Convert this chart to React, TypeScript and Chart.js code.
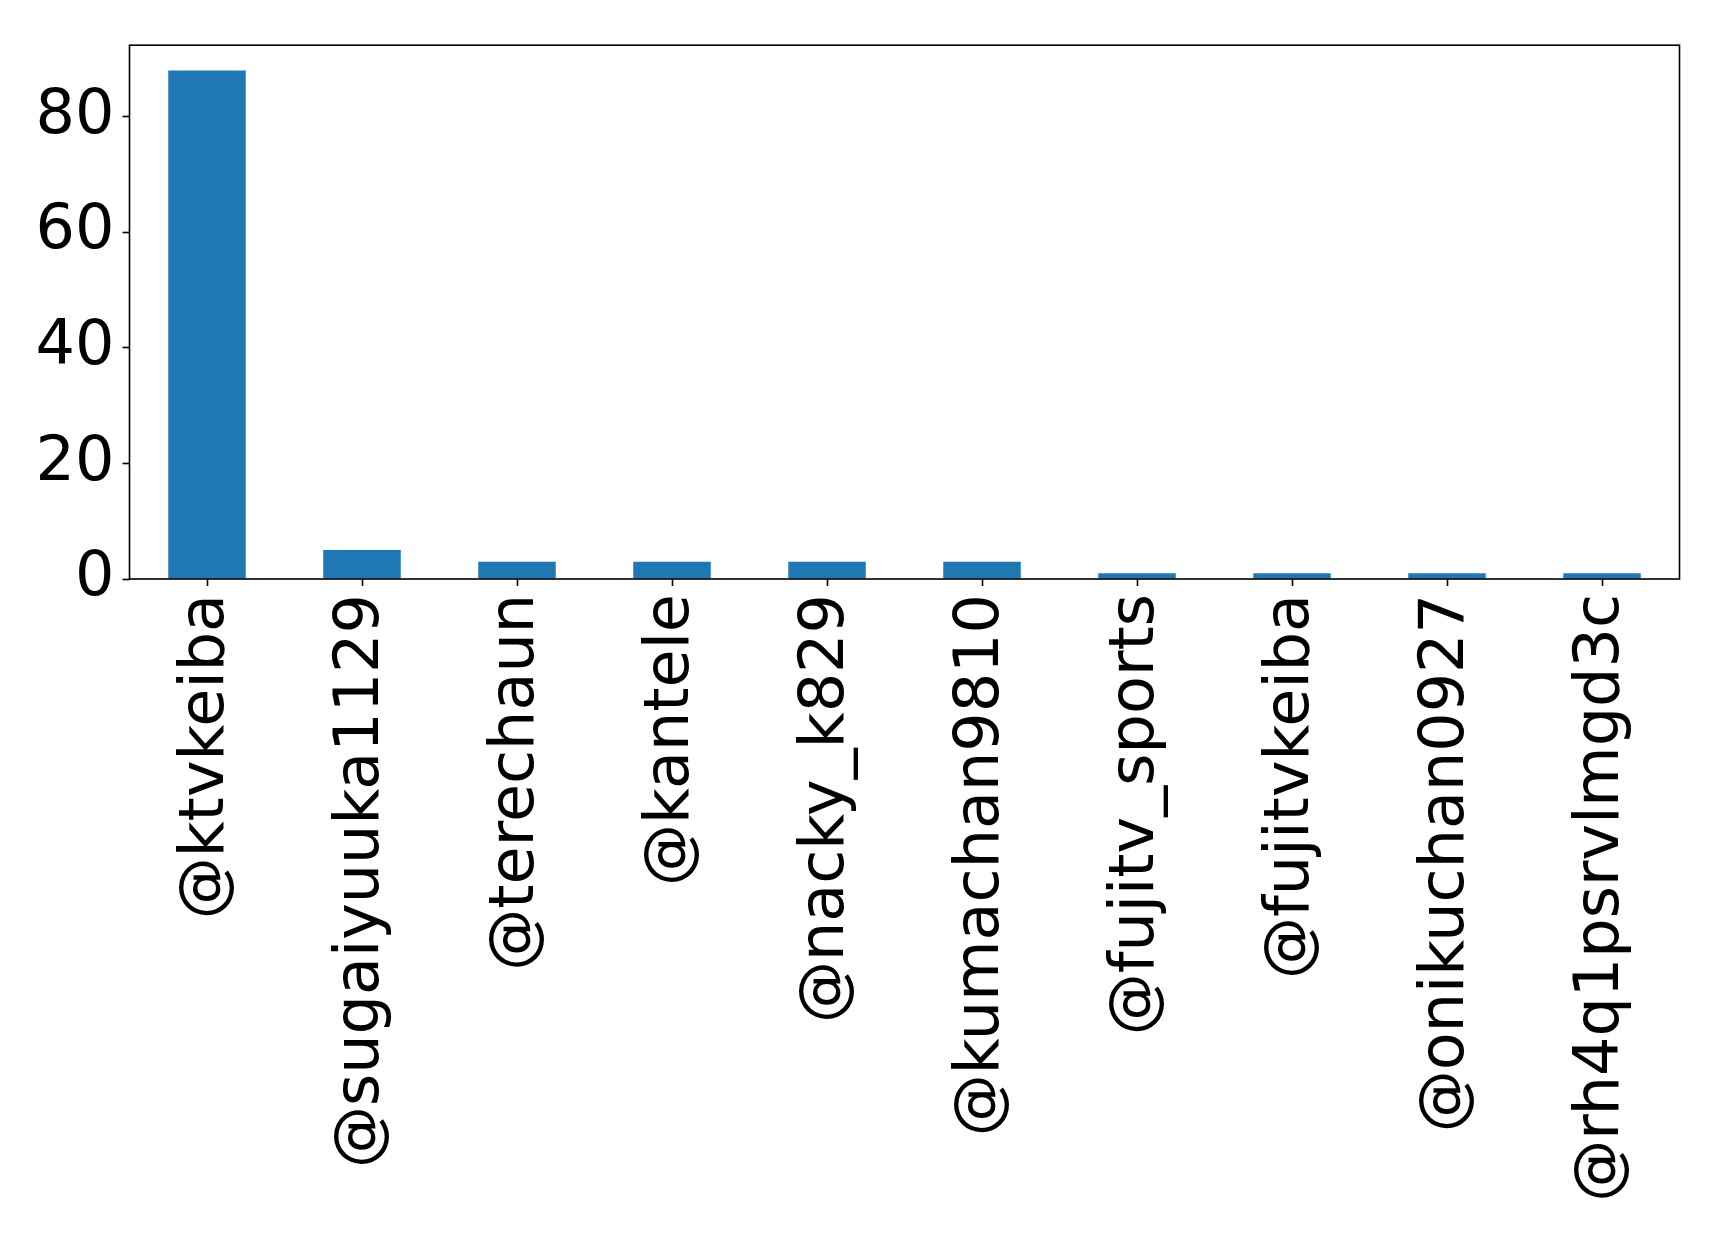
import React, { useEffect, useRef } from "react";
import { Chart, registerables } from "chart.js";

Chart.register(...registerables);

const accounts = [
  "@ktvkeiba",
  "@sugaiyuuka1129",
  "@terechaun",
  "@kantele",
  "@nacky_k829",
  "@kumachan9810",
  "@fujitv_sports",
  "@fujitvkeiba",
  "@onikuchan0927",
  "@rh4q1psrvlmgd3c",
];
const counts = [88, 5, 3, 3, 3, 3, 1, 1, 1, 1];
const yTicks = [0, 20, 40, 60, 80];

const W = 1719;
const H = 1241;
const FONT = "'DejaVu Sans', sans-serif";

// matplotlib-like frame round the plot area
const framePlugin = {
  id: "frame",
  afterDraw(chart: Chart) {
    const { ctx, chartArea: a } = chart;
    ctx.save();
    ctx.strokeStyle = "#000";
    ctx.lineWidth = 1.6;
    ctx.strokeRect(a.left, a.top, a.right - a.left, a.bottom - a.top);
    ctx.restore();
  },
};

const App: React.FC = () => {
  const canvasRef = useRef<HTMLCanvasElement | null>(null);

  useEffect(() => {
    const ctx = canvasRef.current?.getContext("2d");
    if (!ctx) return;
    const chart = new Chart(ctx, {
      type: "bar",
      data: {
        labels: accounts,
        datasets: [
          {
            data: counts,
            backgroundColor: "#1f77b4",
            barPercentage: 0.5,
            categoryPercentage: 1.0,
          },
        ],
      },
      options: {
        responsive: false,
        animation: false,
        devicePixelRatio: 1,
        layout: { padding: { top: 40, right: 39.5, left: 0, bottom: 0 } },
        plugins: { legend: { display: false }, tooltip: { enabled: false } },
        scales: {
          x: {
            offset: true,
            grid: {
              offset: false,
              drawOnChartArea: false,
              drawTicks: true,
              tickLength: 7,
              tickWidth: 1.6,
              tickColor: "#000",
            },
            border: { display: false },
            ticks: {
              autoSkip: false,
              maxRotation: 90,
              minRotation: 90,
              padding: 8,
              color: "#000",
              font: { family: FONT, size: 62 },
            },
            afterFit: (scale: any) => {
              scale.height = H - 579;
            },
          },
          y: {
            min: 0,
            max: 92.4,
            afterBuildTicks: (scale: any) => {
              scale.ticks = yTicks.map((v) => ({ value: v }));
            },
            grid: {
              drawOnChartArea: false,
              drawTicks: true,
              tickLength: 7,
              tickWidth: 1.6,
              tickColor: "#000",
            },
            border: { display: false },
            ticks: {
              padding: 8,
              color: "#000",
              font: { family: FONT, size: 62 },
            },
            afterFit: (scale: any) => {
              scale.width = 129.5;
            },
          },
        },
      },
      plugins: [framePlugin],
    });
    return () => chart.destroy();
  }, []);

  return (
    <div style={{ position: "absolute", left: 0, top: 0, width: W, height: H, background: "#fff" }}>
      <canvas ref={canvasRef} width={W} height={H} />
    </div>
  );
};

export default App;
